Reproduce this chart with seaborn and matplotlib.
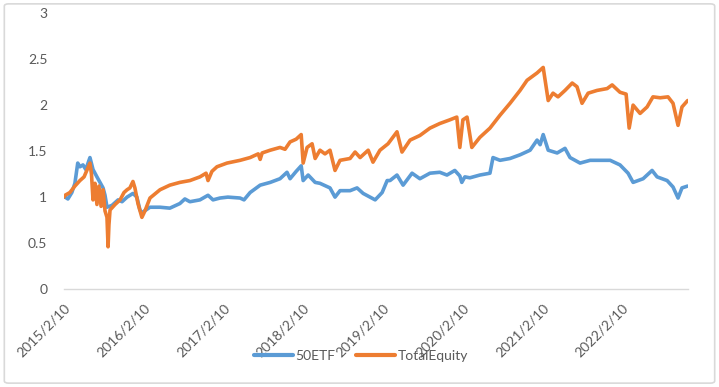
import matplotlib
matplotlib.use("Agg")
import matplotlib.pyplot as plt
from matplotlib.patches import FancyBboxPatch
import numpy as np
import pandas as pd
import seaborn as sns

# values
etf_dates = ["2015-02-10", "2015-02-15", "2015-02-28", "2015-03-18", "2015-04-01", "2015-04-14",
             "2015-04-24", "2015-05-08", "2015-05-21", "2015-06-09", "2015-06-23", "2015-07-11",
             "2015-07-25", "2015-08-08", "2015-08-17", "2015-08-26", "2015-09-18", "2015-10-16",
             "2015-11-03", "2015-11-26", "2015-12-23", "2016-01-10", "2016-01-24", "2016-02-02",
             "2016-03-10", "2016-04-25", "2016-06-09", "2016-07-25", "2016-08-17", "2016-09-09",
             "2016-10-25", "2016-12-01", "2016-12-24", "2017-01-25", "2017-03-02", "2017-04-27",
             "2017-05-15", "2017-06-12", "2017-07-28", "2017-09-12", "2017-10-27", "2017-11-28",
             "2017-12-12", "2018-01-09", "2018-02-01", "2018-02-10", "2018-03-05", "2018-04-06",
             "2018-04-28", "2018-06-13", "2018-07-06", "2018-07-29", "2018-09-13", "2018-10-15",
             "2018-11-12", "2019-01-06", "2019-02-07", "2019-03-02", "2019-03-15", "2019-04-16",
             "2019-05-14", "2019-06-24", "2019-07-30", "2019-09-14", "2019-10-29", "2019-12-01",
             "2020-01-06", "2020-01-29", "2020-02-07", "2020-02-21", "2020-03-15", "2020-04-30",
             "2020-06-15", "2020-06-29", "2020-07-31", "2020-09-15", "2020-10-31", "2020-12-16",
             "2021-01-17", "2021-01-31", "2021-02-14", "2021-03-09", "2021-04-19", "2021-05-25",
             "2021-06-17", "2021-08-02", "2021-09-17", "2021-11-02", "2021-12-18", "2022-02-01",
             "2022-03-10", "2022-04-02", "2022-05-18", "2022-06-28", "2022-07-21", "2022-09-05",
             "2022-10-02", "2022-10-25", "2022-11-12", "2022-12-08"]
etf_values = [1.00, 1.00, 0.98, 1.05, 1.15, 1.37,
              1.33, 1.35, 1.30, 1.43, 1.30, 1.22,
              1.16, 1.10, 1.02, 0.89, 0.91, 0.97,
              0.95, 1.00, 1.04, 1.00, 0.86, 0.83,
              0.89, 0.89, 0.88, 0.93, 0.98, 0.95,
              0.97, 1.02, 0.97, 0.99, 1.00, 0.99,
              0.97, 1.05, 1.13, 1.16, 1.20, 1.27,
              1.20, 1.28, 1.34, 1.18, 1.24, 1.16,
              1.15, 1.10, 1.00, 1.07, 1.07, 1.10,
              1.04, 0.97, 1.05, 1.18, 1.18, 1.24,
              1.13, 1.26, 1.20, 1.26, 1.27, 1.24,
              1.29, 1.23, 1.16, 1.22, 1.21, 1.24,
              1.26, 1.43, 1.40, 1.42, 1.46, 1.51,
              1.62, 1.57, 1.68, 1.51, 1.48, 1.53,
              1.43, 1.37, 1.40, 1.40, 1.40, 1.35,
              1.26, 1.16, 1.20, 1.29, 1.22, 1.18,
              1.11, 0.99, 1.10, 1.12]

eq_dates = ["2015-02-10", "2015-02-15", "2015-03-09", "2015-04-01", "2015-04-24", "2015-05-13",
            "2015-06-09", "2015-06-16", "2015-06-23", "2015-07-02", "2015-07-11", "2015-07-20",
            "2015-07-30", "2015-08-08", "2015-08-17", "2015-08-26", "2015-08-31", "2015-09-04",
            "2015-09-09", "2015-10-02", "2015-10-25", "2015-11-12", "2015-11-26", "2015-12-09",
            "2015-12-23", "2016-01-01", "2016-01-15", "2016-02-02", "2016-02-16", "2016-03-10",
            "2016-04-25", "2016-06-09", "2016-07-25", "2016-09-09", "2016-10-25", "2016-11-22",
            "2016-12-01", "2016-12-19", "2017-01-11", "2017-02-26", "2017-04-27", "2017-06-12",
            "2017-07-19", "2017-07-28", "2017-08-06", "2017-09-12", "2017-10-27", "2017-11-19",
            "2017-12-12", "2018-01-09", "2018-02-01", "2018-02-10", "2018-02-28", "2018-03-23",
            "2018-04-06", "2018-04-28", "2018-05-21", "2018-06-13", "2018-07-06", "2018-07-29",
            "2018-09-13", "2018-10-06", "2018-10-29", "2018-12-05", "2018-12-27", "2019-01-28",
            "2019-03-06", "2019-04-16", "2019-05-09", "2019-06-15", "2019-07-30", "2019-09-14",
            "2019-10-29", "2019-12-14", "2020-01-15", "2020-01-29", "2020-02-12", "2020-03-02",
            "2020-03-24", "2020-04-30", "2020-06-15", "2020-07-31", "2020-09-15", "2020-10-31",
            "2020-12-02", "2021-01-17", "2021-02-14", "2021-03-09", "2021-03-31", "2021-04-23",
            "2021-05-25", "2021-06-27", "2021-07-19", "2021-08-11", "2021-09-08", "2021-10-19",
            "2021-12-04", "2021-12-27", "2022-02-01", "2022-03-01", "2022-03-15", "2022-04-02",
            "2022-05-04", "2022-06-05", "2022-07-02", "2022-08-04", "2022-09-09", "2022-10-02",
            "2022-10-25", "2022-11-12", "2022-12-08"]
eq_values = [1.00, 1.02, 1.05, 1.12, 1.18, 1.22,
             1.37, 1.25, 0.97, 1.15, 0.92, 1.12,
             0.90, 1.08, 0.85, 0.78, 0.46, 0.70,
             0.86, 0.92, 0.97, 1.05, 1.08, 1.10,
             1.17, 1.10, 0.93, 0.78, 0.85, 0.99,
             1.08, 1.13, 1.16, 1.18, 1.22, 1.26,
             1.18, 1.28, 1.33, 1.37, 1.40, 1.43,
             1.47, 1.41, 1.48, 1.51, 1.54, 1.52,
             1.60, 1.63, 1.68, 1.37, 1.54, 1.58,
             1.42, 1.51, 1.47, 1.51, 1.29, 1.40,
             1.42, 1.49, 1.43, 1.51, 1.38, 1.51,
             1.58, 1.71, 1.49, 1.62, 1.67, 1.75,
             1.80, 1.84, 1.87, 1.54, 1.84, 1.87,
             1.54, 1.65, 1.75, 1.89, 2.02, 2.16,
             2.27, 2.35, 2.41, 2.05, 2.13, 2.09,
             2.16, 2.24, 2.20, 2.02, 2.13, 2.16,
             2.18, 2.22, 2.14, 2.12, 1.75, 2.00,
             1.91, 1.98, 2.09, 2.08, 2.09, 2.02,
             1.78, 1.98, 2.05]

series_names = ["50ETF", "TotalEquity"]
tick_dates = ["2015-02-10", "2016-02-10", "2017-02-10", "2018-02-10",
              "2019-02-10", "2020-02-10", "2021-02-10", "2022-02-10"]
tick_labels = ["2015/2/10", "2016/2/10", "2017/2/10", "2018/2/10",
               "2019/2/10", "2020/2/10", "2021/2/10", "2022/2/10"]

df = pd.concat([
    pd.DataFrame({"date": pd.to_datetime(etf_dates), "value": etf_values, "series": series_names[0]}),
    pd.DataFrame({"date": pd.to_datetime(eq_dates), "value": eq_values, "series": series_names[1]}),
])

sns.set_theme(style="white")
plt.rcParams["font.family"] = ["Lato", "DejaVu Sans"]

fig = plt.figure(figsize=(7.19, 3.87), dpi=100)
ax = fig.add_axes([0.089, 0.253, 0.868, 0.713])

sns.lineplot(data=df, x="date", y="value", hue="series", hue_order=series_names,
             palette=["#5B9BD5", "#ED7D31"], linewidth=2.6, estimator=None, sort=True, ax=ax)

ax.set_xlim(pd.Timestamp("2015-02-10"), pd.Timestamp("2022-12-10"))
ax.set_ylim(0, 3)
ax.set_yticks(np.arange(0, 3.01, 0.5))
ax.set_yticklabels(["0", "0.5", "1", "1.5", "2", "2.5", "3"])
ax.set_xticks(pd.to_datetime(tick_dates))
ax.set_xticklabels(tick_labels, rotation=45, ha="right", rotation_mode="anchor")
ax.set_xlabel("")
ax.set_ylabel("")

for s in ["left", "right", "top"]:
    ax.spines[s].set_visible(False)
ax.spines["bottom"].set_color("#D9D9D9")
ax.spines["bottom"].set_linewidth(1)
ax.tick_params(axis="x", length=5, width=1, color="#D9D9D9", direction="out",
               labelsize=10, labelcolor="#595959", pad=4)
ax.tick_params(axis="y", length=0, labelsize=10, labelcolor="#595959", pad=12)
ax.grid(False)

leg = ax.legend(handles=ax.get_lines()[:2], labels=series_names, loc="center",
                bbox_to_anchor=(0.502, 0.08), bbox_transform=fig.transFigure,
                ncol=2, frameon=False, fontsize=10, handlelength=2.8,
                columnspacing=1.5, handletextpad=0.2, labelcolor="#595959")
for line in leg.get_lines():
    line.set_linewidth(3)

border = FancyBboxPatch((0.006, 0.01), 0.988, 0.98, boxstyle="round,pad=0,rounding_size=0.006",
                        transform=fig.transFigure, fill=False, edgecolor="#D9D9D9", linewidth=1.2)
fig.patches.append(border)

fig.savefig("out.png", dpi=100)
